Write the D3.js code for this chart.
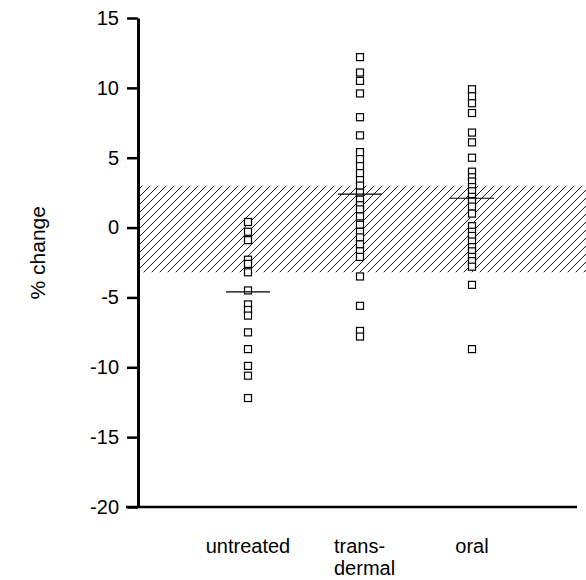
<!DOCTYPE html>
<html lang="en">
<head>
  <meta charset="utf-8">
  <script src="https://d3js.org/d3.v7.min.js"></script>
  <style>
    body { margin: 0; background: #fff; }
    text { font-family: "Liberation Sans", Arial, sans-serif; fill: #000; }
  </style>
</head>
<body>
<script type="text/javascript">
  var w = 586;
  var h = 580;

  // groups on the x axis
  var categories = ["untreated", "transdermal", "oral"];
  var catLabels = [["untreated"], ["trans-", "dermal"], ["oral"]];

  // % change values
  var untreated = [0.4, -0.3, -0.9, -2.3, -2.6, -3.2, -4.5, -5.5, -5.9, -6.3, -7.5, -8.7, -9.9, -10.6, -12.2];
  var transdermal = [12.2, 11.1, 10.5, 9.6, 7.9, 6.6, 5.4, 4.9, 4.4, 3.9, 3.4, 3.0, 2.5, 2.0, 1.6, 1.3, 0.8, 0.2,
                     -0.3, -0.7, -1.2, -1.7, -2.1, -3.5, -5.6, -7.4, -7.8];
  var oral = [9.9, 9.4, 8.9, 8.2, 6.8, 6.1, 5.0, 4.0, 3.6, 3.3, 2.9, 2.6, 2.2, 1.9, 1.5, 1.0, 0.1,
              -0.3, -0.6, -1.0, -1.4, -1.7, -2.1, -2.4, -2.8, -4.1, -8.7];
  var means = [-4.6, 2.4, 2.1];

  // shaded normal range
  var normalRange = [-3.2, 3.0];
  var yTicks = [15, 10, 5, 0, -5, -10, -15, -20];

  var series = [untreated, transdermal, oral];

  var svg = d3.select("body")
          .append("svg")
          .attr("width", w)
          .attr("height", h);

  var y = d3.scaleLinear().domain([-20, 15]).range([507, 18]);
  var x = d3.scalePoint().domain(categories).range([248, 472]);
  var axisX = 138;

  // hatch pattern
  var defs = svg.append("defs");
  var pat = defs.append("pattern")
          .attr("id", "hatch")
          .attr("patternUnits", "userSpaceOnUse")
          .attr("width", 8)
          .attr("height", 8);
  pat.append("path")
          .attr("d", "M-2,2 L2,-2 M0,8 L8,0 M6,10 L10,6")
          .attr("stroke", "#000")
          .attr("stroke-width", 0.9);

  svg.append("rect")
          .attr("x", axisX)
          .attr("y", y(normalRange[1]))
          .attr("width", w - axisX)
          .attr("height", y(normalRange[0]) - y(normalRange[1]))
          .attr("fill", "url(#hatch)");

  // y axis
  var yAxis = svg.append("g")
          .attr("transform", `translate(${axisX},0)`)
          .call(d3.axisLeft(y).tickValues(yTicks).tickSize(11).tickSizeOuter(0).tickPadding(8)
                  .tickFormat(function(d) { return String(d); }));
  yAxis.select(".domain").attr("stroke", "#000").attr("stroke-width", 3);
  yAxis.selectAll(".tick line").attr("stroke", "#000").attr("stroke-width", 2.5);
  yAxis.selectAll(".tick text")
          .attr("font-size", 20)
          .attr("font-family", "Liberation Sans, Arial, sans-serif")
          .attr("fill", "#000");

  // x axis line
  svg.append("line")
          .attr("x1", axisX - 12)
          .attr("x2", 577)
          .attr("y1", y(-20))
          .attr("y2", y(-20))
          .attr("stroke", "#000")
          .attr("stroke-width", 2.5);

  svg.append("text")
          .attr("transform", `translate(45,${y(-1.8)}) rotate(-90)`)
          .attr("text-anchor", "middle")
          .attr("font-size", 21)
          .text("% change");

  // category labels; the two-line one is left aligned
  catLabels.forEach(function(lines, i) {
    var multi = lines.length > 1;
    var lx = multi ? x(categories[i]) - 26 : x(categories[i]);
    var t = svg.append("text")
            .attr("text-anchor", multi ? "start" : "middle")
            .attr("font-size", 20)
            .attr("x", lx)
            .attr("y", 553);
    lines.forEach(function(s, j) {
      t.append("tspan")
              .attr("x", lx)
              .attr("dy", j === 0 ? 0 : 22)
              .text(s);
    });
  });

  // points
  series.forEach(function(vals, i) {
    svg.append("g")
            .selectAll("rect")
            .data(vals)
            .join("rect")
            .attr("x", x(categories[i]) - 3.5)
            .attr("y", function(d) { return y(d) - 3.5; })
            .attr("width", 7)
            .attr("height", 7)
            .attr("fill", "#fff")
            .attr("stroke", "#000")
            .attr("stroke-width", 1.2);
  });

  // mean lines
  svg.append("g")
          .selectAll("line")
          .data(means)
          .join("line")
          .attr("x1", function(d, i) { return x(categories[i]) - 22; })
          .attr("x2", function(d, i) { return x(categories[i]) + 22; })
          .attr("y1", function(d) { return y(d); })
          .attr("y2", function(d) { return y(d); })
          .attr("stroke", "#000")
          .attr("stroke-width", 1.2);
</script>
</body>
</html>
